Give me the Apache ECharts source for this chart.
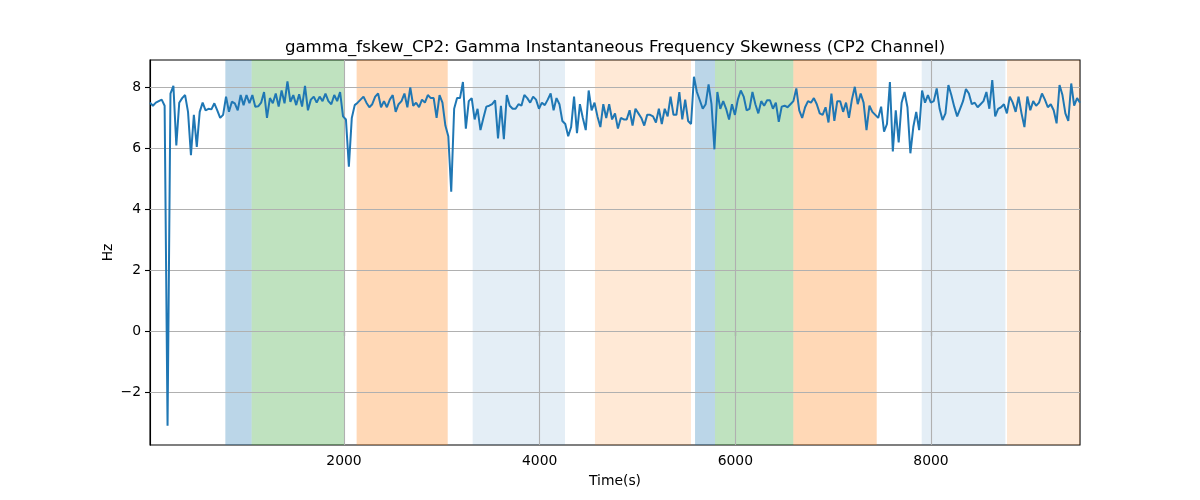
<!DOCTYPE html>
<html>
<head>
<meta charset="utf-8">
<script src="https://cdn.jsdelivr.net/npm/echarts@6/dist/echarts.min.js"></script>
<style>html,body{margin:0;padding:0;background:#fff}#c{width:1200px;height:500px}</style>
</head>
<body>
<div id="c"></div>
<script>
// ---- data ----
const timeStart = 17;
const timeEnd = 9523;
const seg1 = [7.5,7.4,7.5,7.55,7.6,7.4,-3.1,7.8,8.05,6.1,7.5,7.65,7.75,7.2,5.78,7.1,6.05,7.2,7.5,7.25,7.3,7.28,7.48,7.25,7.0,7.1,7.7,7.2,7.53,7.48,7.25,7.75,7.42,7.75,7.48,7.75,7.37,7.38,7.5,7.85,7.0,7.65,7.48,7.8,7.37,7.9,7.48,8.2,7.53,7.75,7.42,7.78,7.37];
const seg2 = [8.05,7.25,7.6,7.7,7.5,7.7,7.55,7.8,7.55,7.45,7.75,7.55,7.85,7.05,6.95,5.4,7.0,7.42,7.5,7.6,7.7,7.5,7.35,7.45,7.7,7.8,7.35,7.55,7.35,7.6,7.75,7.2,7.45,7.55,7.8,7.35,8.0,7.4,7.5,7.35,7.6,7.5,7.75,7.65,7.65,7.0,7.75,7.5,6.75,6.4,4.58,7.3,7.65];
const seg3 = [7.65,8.18,6.65,7.55,7.65,6.95,7.3,6.6,7.0,7.37,7.4,7.45,7.58,6.33,7.4,6.3,7.75,7.4,7.3,7.3,7.45,7.4,7.75,7.65,7.5,7.7,7.6,7.3,7.5,7.42,7.6,7.8,7.25,7.65,7.45,6.9,6.8,6.4,6.7,7.7,6.5,7.45,7.0,6.6,7.9,7.25,7.5,7.05,6.7,7.45,7.0,7.45,6.95];
const seg4 = [7.15,6.65,7.0,6.95,6.95,7.25,6.75,7.3,7.15,7.0,6.75,7.1,7.1,7.05,6.85,7.3,6.8,7.3,7.05,7.7,7.1,7.1,7.85,6.95,7.6,6.9,6.8,8.35,7.85,7.58,7.3,7.45,8.1,7.45,5.97,7.85,7.3,7.55,7.3,6.95,7.45,7.1,7.6,7.9,7.7,7.25,7.3,7.85,7.45,7.15,7.55,7.4,7.58];
const seg5 = [7.58,7.3,7.5,6.87,7.37,7.4,7.35,7.45,7.55,7.97,7.25,7.0,7.35,7.55,7.5,7.65,7.45,7.15,7.1,7.35,6.85,7.8,6.9,7.55,7.55,7.2,7.5,7.0,7.6,8.02,7.45,7.8,7.5,6.6,7.4,7.2,7.1,7.0,7.37,6.55,6.8,8.18,5.9,7.25,6.2,7.5,7.85,7.35,5.84,6.7,7.2,6.6,7.9];
const seg6 = [7.5,7.75,7.5,7.55,7.97,7.3,6.93,7.15,8.08,7.75,7.37,7.05,7.3,7.55,7.95,7.8,7.45,7.5,7.35,7.45,7.55,7.85,7.3,8.24,7.05,7.3,7.35,7.45,7.15,7.7,7.5,7.2,7.7,7.15,6.7,7.7,7.25,7.55,7.4,7.5,7.8,7.6,7.35,7.45,7.25,6.82,8.08,7.75,7.15,6.9,8.13,7.4,7.65,7.5];
const spanStarts = [787, 1056, 2129, 3315, 4565, 5588, 5792, 6593, 7905, 8777];
const spanEnds   = [1056, 2003, 3060, 4259, 5547, 5792, 6593, 7445, 8760, 9523];
const spanKinds  = ['blue','green','orange','lightblue','lightorange','blue','green','orange','lightblue','lightorange'];
const xTicks = [2000, 4000, 6000, 8000];
const yTicks = [-2, 0, 2, 4, 6, 8];
const yMin = -3.73, yMax = 8.9;

// ---- styles ----
const kindColors = {
  blue: 'rgba(31,119,180,0.3)',
  green: 'rgba(44,160,44,0.3)',
  orange: 'rgba(255,127,14,0.3)',
  lightblue: 'rgba(31,119,180,0.12)',
  lightorange: 'rgba(255,127,14,0.17)'
};
const FONT = 'DejaVu Sans';

const values = [].concat(seg1, seg2, seg3, seg4, seg5, seg6);
const step = (timeEnd - timeStart) / (values.length - 1);
const lineData = values.map((v, i) => [timeStart + i * step, v]);

const areas = spanStarts.map((s, i) => [
  { xAxis: s, itemStyle: { color: kindColors[spanKinds[i]] } },
  { xAxis: spanEnds[i] }
]);
const gridLines = xTicks.map(v => ({ xAxis: v })).concat(yTicks.map(v => ({ yAxis: v })));

const fmt = v => String(v).replace('-', '\u2212');

const chart = echarts.init(document.getElementById('c'), null, { renderer: 'canvas' });
chart.setOption({
  animation: false,
  backgroundColor: '#fff',
  title: {
    text: 'gamma_fskew_CP2: Gamma Instantaneous Frequency Skewness (CP2 Channel)',
    left: 610, top: 34, textAlign: 'center',
    textStyle: { fontFamily: FONT, fontSize: 16.6, fontWeight: 'normal', color: '#000' }
  },
  grid: { left: 150, right: 120, top: 60, bottom: 55, show: true, borderColor: '#000', borderWidth: 1.1, backgroundColor: 'transparent' },
  xAxis: {
    type: 'value', min: timeStart, max: timeEnd,
    name: 'Time(s)', nameLocation: 'middle', nameGap: 29,
    nameTextStyle: { fontFamily: FONT, fontSize: 13.9, color: '#000' },
    axisLine: { show: true, lineStyle: { color: '#000', width: 1.1 } },
    axisTick: { show: true, customValues: xTicks, length: 5, lineStyle: { color: '#000', width: 1.1 } },
    axisLabel: { customValues: xTicks, margin: 9, fontFamily: FONT, fontSize: 13.9, color: '#000', formatter: fmt },
    splitLine: { show: false }
  },
  yAxis: {
    type: 'value', min: yMin, max: yMax,
    name: 'Hz', nameLocation: 'middle', nameGap: 35, nameRotate: 90, nameMoveOverlap: false,
    nameTextStyle: { fontFamily: FONT, fontSize: 13.9, color: '#000' },
    axisLine: { show: true, lineStyle: { color: '#000', width: 1.1 } },
    axisTick: { show: true, customValues: yTicks, length: 5, lineStyle: { color: '#000', width: 1.1 } },
    axisLabel: { customValues: yTicks, margin: 9, fontFamily: FONT, fontSize: 13.9, color: '#000', formatter: fmt },
    splitLine: { show: false }
  },
  series: [{
    type: 'line',
    data: lineData,
    showSymbol: false,
    symbol: 'none',
    z: 3,
    lineStyle: { color: '#1f77b4', width: 2 },
    clip: true,
    markArea: { silent: true, z: 1, data: areas },
    markLine: {
      silent: true, z: 2, symbol: ['none', 'none'], label: { show: false },
      lineStyle: { color: '#b0b0b0', width: 1.1, type: 'solid' },
      emphasis: { disabled: true },
      data: gridLines
    }
  }]
});
</script>
</body>
</html>
